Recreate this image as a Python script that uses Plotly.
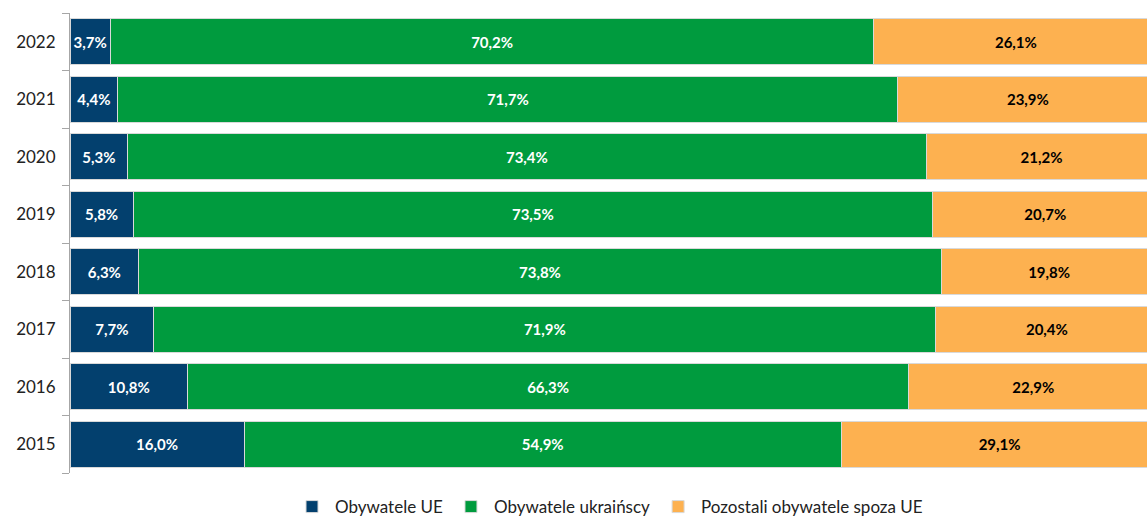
import plotly.graph_objects as go

years = ["2015", "2016", "2017", "2018", "2019", "2020", "2021", "2022"]
ue = [16.0, 10.8, 7.7, 6.3, 5.8, 5.3, 4.4, 3.7]
ukr = [54.9, 66.3, 71.9, 73.8, 73.5, 73.4, 71.7, 70.2]
other = [29.1, 22.9, 20.4, 19.8, 20.7, 21.2, 23.9, 26.1]
names = ["Obywatele UE", "Obywatele ukraińscy", "Pozostali obywatele spoza UE"]
colors = ["#03406E", "#009B3E", "#FDB150"]
text_colors = ["white", "white", "black"]

def fmt(v):
    return f"{v:.1f}".replace(".", ",") + "%"

fig = go.Figure()
for name, vals, col, tc in zip(names, [ue, ukr, other], colors, text_colors):
    fig.add_trace(go.Bar(
        y=years, x=vals, name=name, orientation="h",
        marker=dict(color=col, line=dict(color="#D9D9D9", width=1)),
        text=[fmt(v) for v in vals], textposition="inside", insidetextanchor="middle",
        textfont=dict(color=tc, size=15, family="Lato", weight="bold"),
        hoverinfo="skip",
    ))

fig.update_layout(
    barmode="stack", bargap=0.2,
    width=1147, height=516,
    margin=dict(l=70, r=0, t=13, b=43, autoexpand=False),
    plot_bgcolor="white", paper_bgcolor="white",
    font=dict(family="Lato", size=17, color="#222222"),
    uniformtext=dict(mode=False),
    legend=dict(orientation="h", x=0.5, xanchor="center", y=-0.074, yanchor="middle",
                font=dict(size=17), itemwidth=36, traceorder="normal"),
    xaxis=dict(range=[0, 99], visible=False, fixedrange=True, automargin=False),
    yaxis=dict(type="category", showline=True, linecolor="#A6A6A6", linewidth=1,
               ticks="outside", tickson="boundaries", ticklen=7, tickcolor="#A6A6A6",
               tickfont=dict(size=17), ticklabelstandoff=10, automargin=False,
               fixedrange=True),
)
fig.write_html("out.html", config={"displayModeBar": False},
               post_script="document.body.style.margin='0';document.body.style.overflow='hidden';")
